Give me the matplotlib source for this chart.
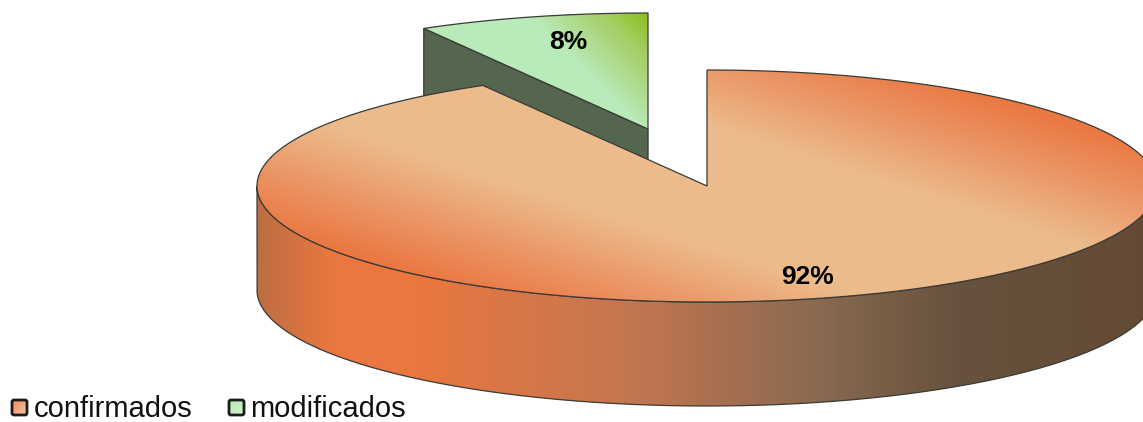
import numpy as np
import matplotlib
matplotlib.use("Agg")
import matplotlib.pyplot as plt
from matplotlib.patches import PathPatch, FancyBboxPatch, Polygon
from matplotlib.path import Path
from matplotlib.colors import LinearSegmentedColormap

plt.rcParams['font.family'] = ['Liberation Sans', 'DejaVu Sans']

categories = ['confirmados', 'modificados']
shares = [91.7, 8.3]
pct_labels = ['92%', '8%']

W, H = 1143, 422
rx, ry, depth = 450, 116, 104
main_c = (707, 186)
small_c = (648, 129)
edge = '#3a3a36'

top_cmap = LinearSegmentedColormap.from_list('top', [
    (0.0, '#ebbb8c'), (0.3, '#ebbb8c'), (0.55, '#eb9d6d'), (0.88, '#ea7843'), (1.0, '#ea7843')])
green_cmap = LinearSegmentedColormap.from_list('grn', [
    (0.0, '#8dbf1e'), (0.4, '#a6cf68'), (1.0, '#b9eab9')])
side_cmap = LinearSegmentedColormap.from_list('side', [
    (0.0, '#bd6e44'), (0.08, '#e9773f'), (0.18, '#e9773f'), (0.42, '#c27650'),
    (0.62, '#8a6a50'), (0.78, '#66523e'), (1.0, '#644a35')])


def ell(c, theta):
    return c[0] + rx * np.sin(theta), c[1] - ry * np.cos(theta)


def wedge_path(c, start, end):
    t = np.linspace(start, end, 300)
    x, y = ell(c, t)
    xs = np.r_[x, c[0], x[0]]
    ys = np.r_[y, c[1], y[0]]
    return Path(np.column_stack([xs, ys]))


fig = plt.figure(figsize=(W / 100, H / 100), dpi=100)
ax = fig.add_axes([0, 0, 1, 1])
ax.set_xlim(0, W)
ax.set_ylim(H, 0)
ax.axis('off')

yy, xx = np.mgrid[0:H, 0:W]
small_angle = 2 * np.pi * shares[1] / 100

# exploded slice: side wall first, the big slice covers its lower part
lx, ly = ell(small_c, -small_angle)
ax.add_patch(Polygon([(lx, ly), small_c, (small_c[0], small_c[1] + depth), (lx, ly + depth)],
                     facecolor='#55664f', edgecolor=edge, linewidth=1, zorder=1))

p_small = wedge_path(small_c, -small_angle, 0)
t_small = np.clip(((small_c[0] - xx) + (yy - 14)) / 120, 0, 1)
im = ax.imshow(t_small, cmap=green_cmap, vmin=0, vmax=1, extent=(0, W, H, 0), aspect='auto', zorder=2)
patch = PathPatch(p_small, facecolor='none', edgecolor=edge, linewidth=0.9, zorder=3)
ax.add_patch(patch)
im.set_clip_path(patch)

# wall of the big slice
t = np.linspace(np.pi / 2, 3 * np.pi / 2, 300)
x, y = ell(main_c, t)
wall = Path(np.column_stack([np.r_[x, x[::-1], x[0]], np.r_[y, y[::-1] + depth, y[0]]]))
grad = np.linspace(0, 1, 256).reshape(1, -1)
im = ax.imshow(grad, cmap=side_cmap, extent=(257, 1157, H, 0), aspect='auto', zorder=4)
patch = PathPatch(wall, facecolor='none', edgecolor=edge, linewidth=0.9, zorder=5)
ax.add_patch(patch)
im.set_clip_path(patch)

# top of the big slice
p_main = wedge_path(main_c, 0, 2 * np.pi * shares[0] / 100)
t_top = np.abs((xx - main_c[0]) * 0.32 - (yy - main_c[1])) / 205
im = ax.imshow(np.clip(t_top, 0, 1), cmap=top_cmap, vmin=0, vmax=1, extent=(0, W, H, 0),
               aspect='auto', zorder=6)
patch = PathPatch(p_main, facecolor='none', edgecolor=edge, linewidth=0.9, zorder=7)
ax.add_patch(patch)
im.set_clip_path(patch)

ax.text(808, 277, pct_labels[0], fontsize=19, fontweight='bold', ha='center', va='center', zorder=8)
ax.text(568, 42, pct_labels[1], fontsize=19, fontweight='bold', ha='center', va='center', zorder=8)

# legend
legend_x = [12, 229]
legend_cmaps = [LinearSegmentedColormap.from_list('a', ['#ee8a58', '#f6c8a4']),
                LinearSegmentedColormap.from_list('b', ['#b5e8b0', '#d5f5d0'])]
for name, lx0, cm in zip(categories, legend_x, legend_cmaps):
    g = np.linspace(0, 1, 32).reshape(-1, 1) + np.linspace(0, 1, 32).reshape(1, -1)
    ax.imshow(g, cmap=cm, extent=(lx0, lx0 + 15, 415, 400), aspect='auto', zorder=8)
    ax.add_patch(FancyBboxPatch((lx0, 400), 15, 15, boxstyle='round,pad=0,rounding_size=2',
                                facecolor='none', edgecolor='#1c1c1c', linewidth=2, zorder=9))
    ax.text(lx0 + 21.5, 409.4, name, fontsize=21, ha='left', va='center', color='#111111', zorder=9)
ax.set_xlim(0, W)
ax.set_ylim(H, 0)

fig.savefig('out.png', dpi=100)
